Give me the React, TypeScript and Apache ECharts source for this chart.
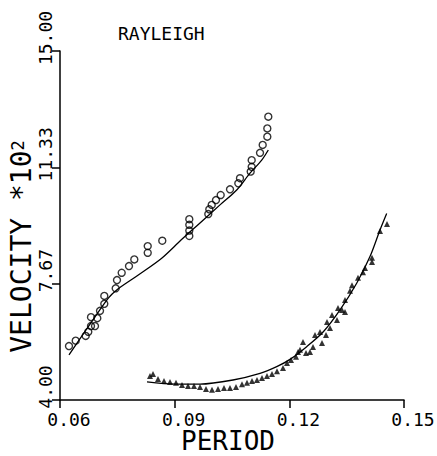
import React, { useEffect, useRef } from "react";
import * as echarts from "echarts";

const FONT = "'DejaVu Sans Mono', monospace";

const xTickValues = [0.06, 0.09, 0.12, 0.15];
const xTickLabels = ["0.06", "0.09", "0.12", "0.15"];
const yTickValues = [4, 4 + 11 / 3, 4 + 22 / 3, 15];
const yTickLabels = ["4.00", "7.67", "11.33", "15.00"];

// open circles (upper branch)
const circlePoints: [number, number][] = [
  [0.06235, 5.7], [0.06411, 5.87], [0.06672, 6.02], [0.0674, 6.15], [0.06811, 6.33],
  [0.06811, 6.61], [0.06916, 6.33], [0.06976, 6.58], [0.07047, 6.81], [0.07159, 7.03],
  [0.07159, 7.28], [0.07457, 7.52], [0.07491, 7.78], [0.07614, 8.01], [0.07805, 8.22],
  [0.07944, 8.43], [0.08295, 8.64], [0.08295, 8.85], [0.08676, 9.02], [0.09383, 9.17],
  [0.09383, 9.34], [0.09383, 9.52], [0.09383, 9.7], [0.0988, 9.86], [0.09906, 10.01],
  [0.09969, 10.15], [0.10081, 10.3], [0.10204, 10.46], [0.10448, 10.64], [0.10665, 10.83],
  [0.10709, 10.99], [0.10989, 11.2], [0.11015, 11.35], [0.11015, 11.56], [0.11233, 11.79],
  [0.11303, 12.04], [0.11424, 12.3], [0.11424, 12.56], [0.1145, 12.93],
];

// fitted curve for the circles
const circleCurve: [number, number][] = [
  [0.06235, 5.42], [0.0674, 6.31], [0.07264, 7.21], [0.07483, 7.47], [0.08049, 7.94],
  [0.08661, 8.47], [0.09166, 9.04], [0.09663, 9.58], [0.10186, 10.15], [0.10623, 10.62],
  [0.10971, 11.15], [0.11277, 11.56], [0.1145, 11.88],
];

// filled triangles (lower branch)
const trianglePoints: [number, number][] = [
  [0.08355, 4.76], [0.08433, 4.82], [0.08564, 4.66], [0.08721, 4.6], [0.08878, 4.57],
  [0.09035, 4.54], [0.09192, 4.47], [0.09349, 4.44], [0.09506, 4.44], [0.09663, 4.41],
  [0.0982, 4.35], [0.09977, 4.32], [0.10134, 4.35], [0.10291, 4.38], [0.10448, 4.38],
  [0.10605, 4.41], [0.10762, 4.5], [0.10892, 4.54], [0.11023, 4.6], [0.11154, 4.63],
  [0.11285, 4.69], [0.11416, 4.76], [0.11547, 4.82], [0.11677, 4.91], [0.11834, 5.01],
  [0.11939, 5.17], [0.12044, 5.26], [0.12174, 5.36], [0.12227, 5.51], [0.12279, 5.58],
  [0.12358, 5.83], [0.12436, 5.48], [0.12541, 5.51], [0.12619, 5.67], [0.12672, 6.05],
  [0.12802, 6.14], [0.12855, 5.8], [0.12959, 6.05], [0.12985, 6.46], [0.13064, 6.27],
  [0.13116, 6.68], [0.13247, 6.52], [0.13273, 6.9], [0.13378, 6.84], [0.13456, 7.15],
  [0.13456, 6.77], [0.13587, 7.44], [0.1364, 7.62], [0.13797, 7.85], [0.13927, 8.03],
  [0.1398, 8.16], [0.14163, 8.48], [0.14163, 8.35], [0.14372, 9.33], [0.14555, 9.55],
];

// fitted curve for the triangles
const triangleCurve: [number, number][] = [
  [0.08276, 4.57], [0.09009, 4.5], [0.09663, 4.5], [0.10526, 4.63], [0.11233, 4.84],
  [0.1167, 5.05], [0.12017, 5.28], [0.12454, 5.68], [0.12889, 6.15], [0.13326, 6.84],
  [0.13762, 7.68], [0.1411, 8.52], [0.14372, 9.36], [0.14547, 9.88],
];

function labelFor(values: number[], labels: string[]) {
  return (v: number) => {
    let best = 0;
    for (let i = 1; i < values.length; i++) {
      if (Math.abs(values[i] - v) < Math.abs(values[best] - v)) best = i;
    }
    return labels[best];
  };
}

export default function App() {
  const ref = useRef<HTMLDivElement>(null);
  useEffect(() => {
    if (!ref.current) return;
    const chart = echarts.init(ref.current, null, { renderer: "svg" });
    const axisLineStyle = { color: "#000", width: 1.5 };
    chart.setOption({
      animation: false,
      backgroundColor: "#fff",
      title: {
        text: "RAYLEIGH",
        left: 118,
        top: 24,
        padding: 0,
        textStyle: { fontFamily: FONT, fontSize: 18, fontWeight: "normal", color: "#000" },
      },
      grid: { left: 60, right: 33, top: 51, bottom: 56, containLabel: false, outerBoundsMode: "none" },
      xAxis: {
        type: "value",
        min: 0.06,
        max: 0.15,
        name: "PERIOD",
        nameLocation: "middle",
        nameGap: 30,
        nameMoveOverlap: false,
        nameTextStyle: {
          fontFamily: FONT,
          fontSize: 26,
          lineHeight: 22,
          color: "#000",
          padding: [0, 8, 0, 0],
        },
        axisLine: { onZero: false, lineStyle: axisLineStyle },
        axisTick: { customValues: xTickValues, length: 8, lineStyle: axisLineStyle },
        axisLabel: {
          customValues: xTickValues,
          formatter: labelFor(xTickValues, xTickLabels),
          fontFamily: FONT,
          fontSize: 18,
          color: "#000",
          margin: 10,
          padding: [0, 0, 0, 18],
          alignMinLabel: "center",
          alignMaxLabel: "center",
          showMinLabel: true,
          showMaxLabel: true,
        },
        splitLine: { show: false },
      },
      yAxis: {
        type: "value",
        min: 4,
        max: 15,
        name: "VELOCITY *10{s|2}",
        nameLocation: "middle",
        nameRotate: 90,
        nameGap: 27,
        nameMoveOverlap: false,
        nameTextStyle: {
          fontFamily: FONT,
          fontSize: 28,
          lineHeight: 24,
          color: "#000",
          padding: [0, 42, 0, 0],
          rich: {
            s: { fontFamily: FONT, fontSize: 17, lineHeight: 24, color: "#000", verticalAlign: "top" },
          },
        },
        axisLine: { onZero: false, lineStyle: axisLineStyle },
        axisTick: { customValues: yTickValues, length: 8, lineStyle: axisLineStyle },
        axisLabel: {
          customValues: yTickValues,
          formatter: labelFor(yTickValues, yTickLabels),
          rotate: 90,
          fontFamily: FONT,
          fontSize: 18,
          color: "#000",
          margin: 6,
          padding: [0, 0, 0, 26],
          alignMinLabel: "center",
          alignMaxLabel: "center",
          showMinLabel: true,
          showMaxLabel: true,
        },
        splitLine: { show: false },
      },
      series: [
        {
          type: "line",
          data: circleCurve,
          smooth: 0.3,
          showSymbol: false,
          lineStyle: { color: "#000", width: 1.3 },
          z: 2,
        },
        {
          type: "line",
          data: triangleCurve,
          smooth: 0.3,
          showSymbol: false,
          lineStyle: { color: "#000", width: 1.3 },
          z: 2,
        },
        {
          type: "scatter",
          data: circlePoints,
          symbol: "circle",
          symbolSize: 7,
          itemStyle: { color: "rgba(0,0,0,0)", borderColor: "#000", borderWidth: 1.4 },
          z: 3,
        },
        {
          type: "scatter",
          data: trianglePoints,
          symbol: "triangle",
          symbolSize: 6,
          itemStyle: { color: "#000" },
          z: 3,
        },
      ],
    });
    return () => chart.dispose();
  }, []);
  return (
    <div
      ref={ref}
      style={{ position: "fixed", left: 0, top: 0, width: 437, height: 456, background: "#fff" }}
    />
  );
}
